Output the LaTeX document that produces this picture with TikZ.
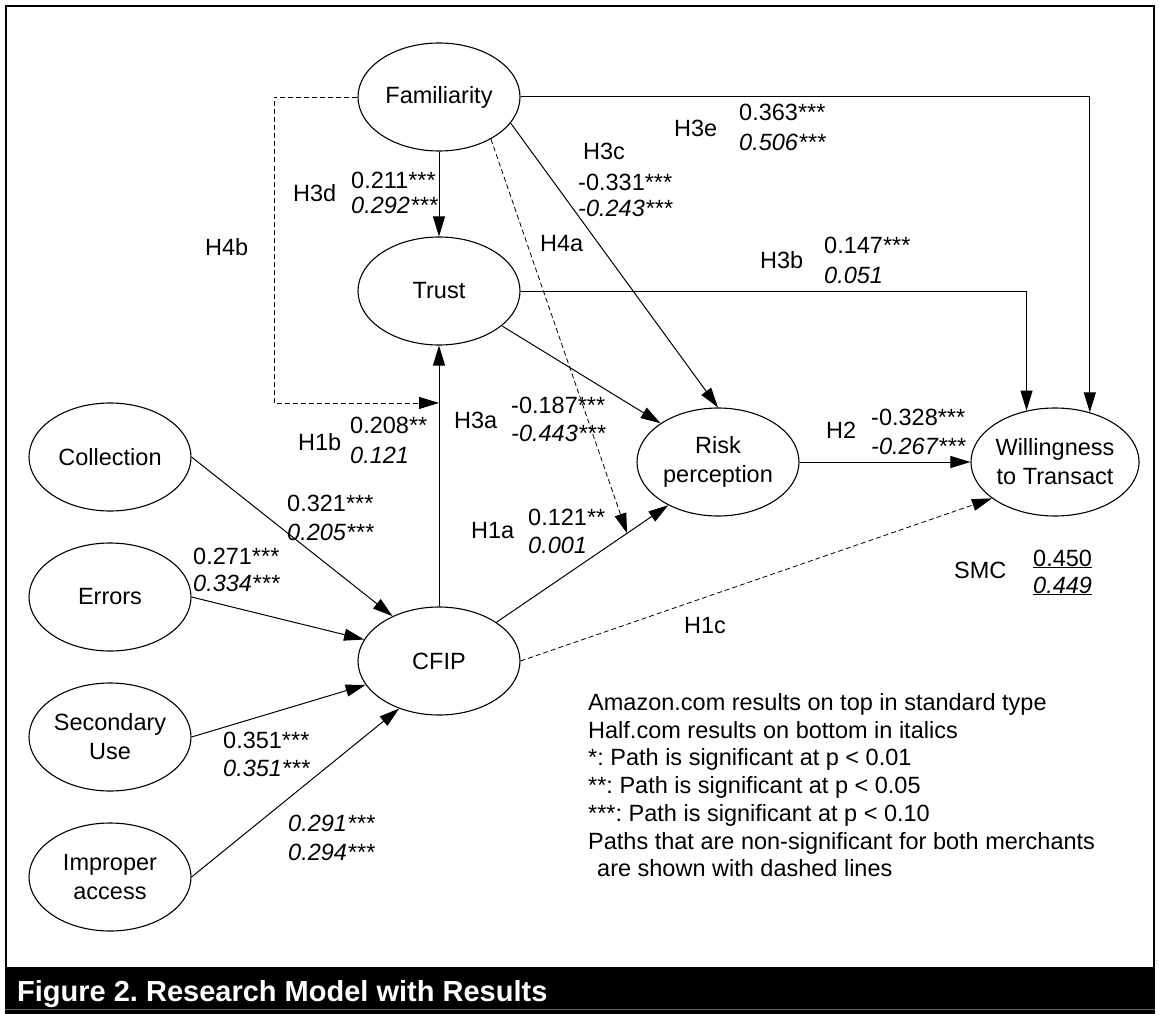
\documentclass[tikz,border=0pt]{standalone}
\usepackage{fontspec}
\setmainfont{Liberation Sans}
\usetikzlibrary{arrows.meta,shapes.geometric}
\frenchspacing
\begin{document}
\begin{tikzpicture}[x=1pt,y=-1pt,
  font=\fontsize{23.5}{29}\selectfont,
  lv/.style={ellipse,draw,line width=1.1pt,minimum width=162pt,minimum height=108pt,inner sep=0pt,align=center},
  con/.style={line width=1pt,-{Triangle[length=20pt,width=12pt]}},
  dcon/.style={con,line width=0.8pt,dash pattern=on 5pt off 3pt},
  lab/.style={anchor=base west,inner sep=0pt},
  ital/.style={lab,font=\fontsize{23.5}{29}\selectfont\itshape}]
\useasboundingbox (0,0) rectangle (1159,1014);

% frame and caption bar
\draw[line width=2.5pt] (6,6) rectangle (1154,968);
\fill[black] (4.75,968) rectangle (1155.25,1014);
\draw[line width=1pt, black!60] (4.75,1009) -- (1155.25,1009);
\node[anchor=base west,inner sep=0pt,text=white,font=\fontsize{29}{34}\selectfont\bfseries] (cap) at (17,1001) {Figure 2. Research Model with Results};

% latent variables
\node[lv] (fam) at (439,97) {Familiarity};
\node[lv] (trust) at (439,291) {Trust};
\node[lv] (coll) at (110,457) {Collection};
\node[lv] (err) at (110,597) {Errors};
\node[lv] (cfip) at (439,661) {CFIP};
\node[lv] (sec) at (110,737) {Secondary\\Use};
\node[lv] (imp) at (110,877) {Improper\\access};
\node[lv] (risk) at (718,462) {Risk\\perception};
\node[lv] (will) at (1055,462) {Willingness\\to Transact};

% paths
\draw[con] (fam) -- (trust);
\draw[con] (fam.east) -| (will.55);
\draw[con] (trust.east) -| (will.119);
\draw[con] (fam.-20) -- (risk.north);
\draw[con] (cfip) -- coordinate[pos=0.78] (m2) (trust);
\draw[con] (cfip.34) -- coordinate[pos=0.76] (m1) (risk.221);
\draw[dcon] (fam.-39) -- (m1);
\draw[dcon] (fam.west) -- ++(-83.5,0) |- (m2);
\draw[con] (trust.-29) -- (risk.146);
\draw[con] (risk) -- (will);
\draw[dcon] (cfip.east) -- (will.210);
\draw[con] (coll.east) -- (cfip.136);
\draw[con] (err.east) -- (cfip.164);
\draw[con] (sec.east) -- (cfip.198);
\draw[con] (imp.east) -- (cfip.230);

% path labels
\node[lab] (h3d) at (293,201) {H3d};
\node[lab] (v211) at (351,188) {0.211***};
\node[ital] (v292) at (351,213) {0.292***};
\node[lab] (h4b) at (205,255) {H4b};
\node[lab] (h3c) at (583,160) {H3c};
\node[lab] (v331) at (578,190) {-0.331***};
\node[ital] (v243) at (578,216) {-0.243***};
\node[lab] (h3e) at (674,136) {H3e};
\node[lab] (v363) at (739,121) {0.363***};
\node[ital] (v506) at (739,150) {0.506***};
\node[lab] (h4a) at (540,251) {H4a};
\node[lab] (h3b) at (760,268) {H3b};
\node[lab] (v147) at (824,253) {0.147***};
\node[ital] (v051) at (824,283) {0.051};
\node[lab] (h1b) at (298,450) {H1b};
\node[lab] (v208) at (350,433) {0.208**};
\node[ital] (v121b) at (350,463) {0.121};
\node[lab] (h3a) at (454,428) {H3a};
\node[lab] (v187) at (511,413) {-0.187***};
\node[ital] (v443) at (511,441) {-0.443***};
\node[lab] (v321) at (287,511) {0.321***};
\node[ital] (v205) at (287,540) {0.205***};
\node[lab] (v271) at (193,564) {0.271***};
\node[ital] (v334) at (193,591) {0.334***};
\node[lab] (h1a) at (471,538) {H1a};
\node[lab] (v121a) at (528,525) {0.121**};
\node[ital] (v001) at (528,553) {0.001};
\node[lab] (h2) at (826,438) {H2};
\node[lab] (v328) at (871,425) {-0.328***};
\node[ital] (v267) at (871,454) {-0.267***};
\node[lab] (smc) at (954,578) {SMC};
\node[lab] (v450) at (1033,566) {\underline{0.450}};
\node[ital] (v449) at (1033,593) {\underline{0.449}};
\node[lab] (h1c) at (684,633) {H1c};
\node[lab] (v351a) at (223,748) {0.351***};
\node[ital] (v351b) at (223,776) {0.351***};
\node[ital] (v291) at (288,831) {0.291***};
\node[ital] (v294) at (288,860) {0.294***};

% legend
\node[lab] (leg1) at (588,710) {Amazon.com results on top in standard type};
\node[lab] (leg2) at (588,738) {Half.com results on bottom in italics};
\node[lab] (leg3) at (588,765) {*: Path is significant at p < 0.01};
\node[lab] (leg4) at (588,793) {**: Path is significant at p < 0.05};
\node[lab] (leg5) at (588,821) {***: Path is significant at p < 0.10};
\node[lab] (leg6) at (588,849) {Paths that are non-significant for both merchants};
\node[lab] (leg7) at (597,876) {are shown with dashed lines};
\end{tikzpicture}
\end{document}
